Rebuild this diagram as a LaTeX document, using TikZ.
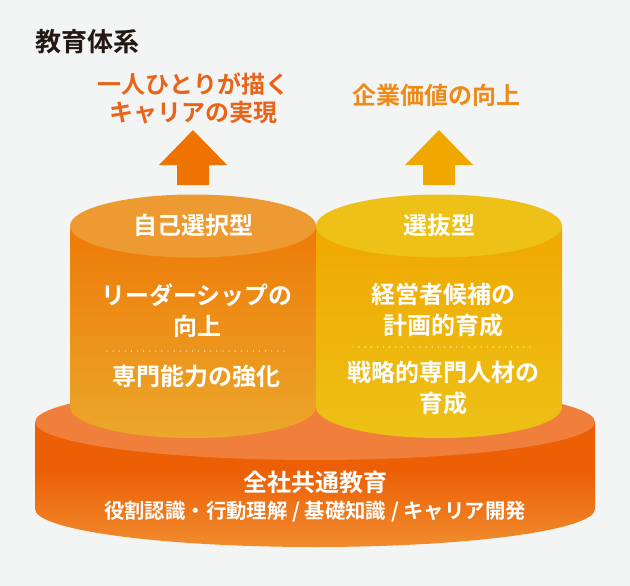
\documentclass[tikz,border=0pt]{standalone}
\usepackage{fontspec}
\setmainfont{Noto Sans CJK JP}[BoldFont={Noto Sans CJK JP Bold}]
\definecolor{bgc}{HTML}{F3F5F5}
\definecolor{baseA}{HTML}{EC5F05}
\definecolor{baseB}{HTML}{F08C2E}
\definecolor{baseTop}{HTML}{F07F3C}
\definecolor{leftA}{HTML}{EE7A08}
\definecolor{leftB}{HTML}{EBA82B}
\definecolor{leftTop}{HTML}{EE9A33}
\definecolor{rightA}{HTML}{F0A800}
\definecolor{rightB}{HTML}{EDC117}
\definecolor{rightTop}{HTML}{EDC118}
\definecolor{arrowL}{HTML}{EE7300}
\definecolor{arrowR}{HTML}{F0A800}
\definecolor{goalL}{HTML}{E8641B}
\definecolor{goalR}{HTML}{EE8A18}
\definecolor{titleC}{HTML}{231815}
\pgfdeclareverticalshading{baseshade}{100bp}{color(0bp)=(baseB); color(25bp)=(baseB); color(56bp)=(baseA); color(100bp)=(baseA)}
\tikzset{
  x=1pt,y=-1pt,
  lbl/.style={text=white,align=center,inner sep=0pt,font=\bfseries\fontsize{24}{30.5}\selectfont},
  goal/.style={align=center,inner sep=0pt,font=\bfseries\fontsize{24}{28}\selectfont},
  dotline/.style={white,line width=1.3pt,line cap=round,dash pattern=on 0pt off 6.1pt},
}
\begin{document}
\begin{tikzpicture}
\useasboundingbox (0,0) rectangle (630,586);
\fill[bgc] (0,0) rectangle (630,586);
% base
\path[shading=baseshade] (35,422) -- (35,509) arc[start angle=180,end angle=0,x radius=280,y radius=38] -- (595,422) -- cycle;
\fill[baseTop] (315,422) ellipse[x radius=280,y radius=38];
% left cylinder
\path[top color=leftA,bottom color=leftB] (70,226) -- (70,407) arc[start angle=180,end angle=0,x radius=123,y radius=31] -- (316,226) -- cycle;
\fill[leftTop] (193,226) ellipse[x radius=123,y radius=31.5];
% right cylinder
\path[top color=rightA,bottom color=rightB] (316,226) -- (316,407) arc[start angle=180,end angle=0,x radius=123,y radius=31] -- (562,226) -- cycle;
\fill[rightTop] (439,226) ellipse[x radius=123,y radius=31.5];
% arrows
\fill[arrowL] (193,130) -- (227,165) -- (209,165) -- (209,185) -- (177,185) -- (177,165) -- (159,165) -- cycle;
\fill[arrowR] (439,130) -- (473,165) -- (455,165) -- (455,185) -- (423,185) -- (423,165) -- (405,165) -- cycle;
% dotted rules
\coordinate (dl1) at (107,351); \coordinate (dl2) at (284,351);
\coordinate (dr1) at (353,347); \coordinate (dr2) at (531,347);
\draw[dotline] (dl1) -- (dl2);
\draw[dotline] (dr1) -- (dr2);
% text
\node[anchor=west,inner sep=0pt,text=titleC,font=\bfseries\fontsize{26}{30}\selectfont] (title) at (35,42) {教育体系};
\node[goal,text=goalL] (goalLeft) at (193.5,98.5) {一人ひとりが描く\\キャリアの実現};
\node[goal,text=goalR] (goalRight) at (436,95) {企業価値の向上};
\node[lbl] (selfSel) at (193,225) {自己選択型};
\node[lbl] (sel) at (439,225) {選抜型};
\node[lbl] (leader) at (197,310.5) {リーダーシップの\\向上};
\node[lbl] (expert) at (196.5,376.5) {専門能力の強化};
\node[lbl] (exec) at (443.5,310) {経営者候補の\\計画的育成};
\node[lbl] (strat) at (443,388) {戦略的専門人材の\\育成};
\node[lbl,font=\bfseries\fontsize{24}{30}\selectfont] (all) at (315,482) {全社共通教育};
\node[lbl,font=\bfseries\fontsize{20.4}{24}\selectfont] (sub) at (315,512) {役割認識・行動理解 / 基礎知識 / キャリア開発};
\end{tikzpicture}
\end{document}
